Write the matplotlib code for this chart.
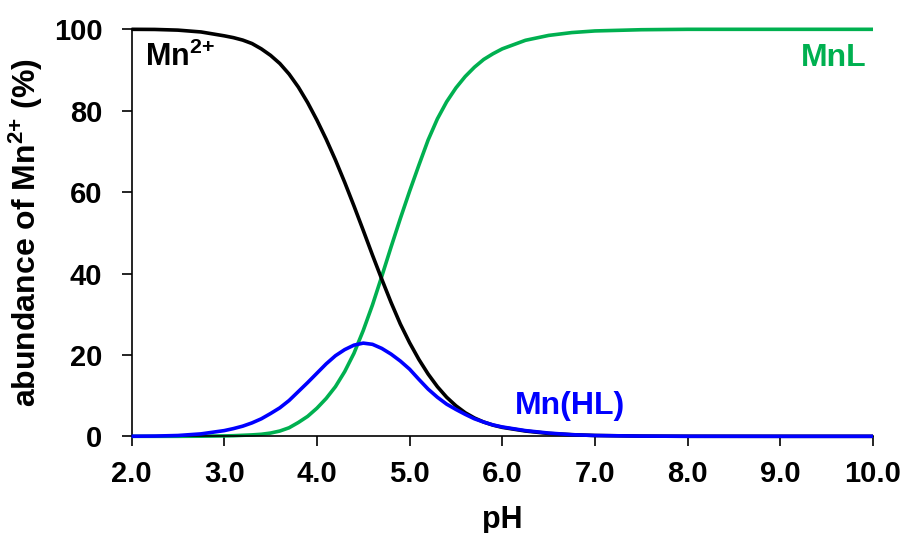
import matplotlib
matplotlib.use("Agg")
import matplotlib.pyplot as plt

plt.rcParams['font.family'] = ['Liberation Sans', 'DejaVu Sans']
plt.rcParams['font.weight'] = 'bold'
plt.rcParams['mathtext.fontset'] = 'custom'
plt.rcParams['mathtext.rm'] = 'Liberation Sans:bold'
plt.rcParams['mathtext.bf'] = 'Liberation Sans:bold'
plt.rcParams['mathtext.it'] = 'Liberation Sans:bold'

pH = [2.0, 2.25, 2.5, 2.75,
      3.0, 3.1, 3.2, 3.3, 3.4, 3.5, 3.6, 3.7, 3.8, 3.9,
      4.0, 4.1, 4.2, 4.3, 4.4, 4.5, 4.6, 4.7, 4.8, 4.9,
      5.0, 5.1, 5.2, 5.3, 5.4, 5.5, 5.6, 5.7, 5.8, 5.9,
      6.0, 6.25, 6.5, 6.75, 7.0, 7.5, 8.0, 9.0, 10.0]

mn_free = [100.0, 99.97, 99.8, 99.35,
           98.4, 97.95, 97.35, 96.5, 95.2, 93.6, 91.6, 89.0, 85.8, 82.0,
           77.7, 73.0, 67.9, 62.4, 56.6, 50.6, 44.5, 38.6, 32.9, 27.6,
           23.0, 18.9, 15.3, 12.2, 9.6, 7.5, 5.8, 4.5, 3.5, 2.75,
           2.2, 1.3, 0.7, 0.4, 0.2, 0.05, 0.01, 0.0, 0.0]

mn_hl = [0.02, 0.06, 0.2, 0.6,
         1.4, 1.9, 2.5, 3.3, 4.3, 5.6, 7.0, 8.8, 11.0, 13.2,
         15.5, 17.8, 19.8, 21.3, 22.4, 22.9, 22.6, 21.6, 20.2, 18.5,
         16.5, 14.0, 11.6, 9.6, 7.9, 6.6, 5.4, 4.3, 3.5, 2.8,
         2.3, 1.4, 0.8, 0.4, 0.2, 0.05, 0.01, 0.0, 0.0]

mn_l = [0.0, 0.0, 0.0, 0.03,
        0.1, 0.15, 0.25, 0.35, 0.5, 0.8, 1.3, 2.1, 3.4, 4.9,
        6.9, 9.3, 12.2, 15.9, 20.4, 26.0, 32.3, 39.3, 46.5, 53.5,
        60.2, 66.6, 72.8, 78.0, 82.2, 85.6, 88.4, 90.7, 92.6, 94.0,
        95.2, 97.3, 98.5, 99.2, 99.6, 99.9, 100.0, 100.0, 100.0]

x_ticks = [2.0, 3.0, 4.0, 5.0, 6.0, 7.0, 8.0, 9.0, 10.0]
x_tick_labels = ['2.0', '3.0', '4.0', '5.0', '6.0', '7.0', '8.0', '9.0', '10.0']
y_ticks = [0, 20, 40, 60, 80, 100]

black = '#000000'
blue = '#0000FF'
green = '#00B050'

fig = plt.figure(figsize=(9.04, 5.33), dpi=100)
ax = fig.add_axes([0.1455, 0.1814, 0.8202, 0.7636])

ax.plot(pH, mn_free, color=black, lw=2.6, clip_on=False, zorder=3,
        solid_capstyle='butt', solid_joinstyle='round')
ax.plot(pH, mn_l, color=green, lw=2.6, clip_on=False, zorder=2,
        solid_capstyle='butt', solid_joinstyle='round')
ax.plot(pH, mn_hl, color=blue, lw=2.6, clip_on=False, zorder=4,
        solid_capstyle='butt', solid_joinstyle='round')

ax.set_xlim(2.0, 10.0)
ax.set_ylim(0, 100)
ax.set_xticks(x_ticks)
ax.set_xticklabels(x_tick_labels)
ax.set_yticks(y_ticks)

for s in ['top', 'right']:
    ax.spines[s].set_visible(False)
for s in ['left', 'bottom']:
    ax.spines[s].set_linewidth(1.2)
    ax.spines[s].set_color('#000000')

ax.tick_params(axis='both', direction='out', length=7, width=1.2,
               labelsize=21)
ax.tick_params(axis='y', pad=14)
ax.tick_params(axis='x', pad=10)
for lab in ax.get_xticklabels() + ax.get_yticklabels():
    lab.set_fontweight('bold')

ax.set_xlabel('pH', fontsize=22, fontweight='bold', labelpad=12)
ax.set_ylabel(r'abundance of Mn$^{2{+}}$ (%)', fontsize=23, fontweight='bold', labelpad=6)

ax.text(2.15, 93, r'Mn$^{2{+}}$', color=black, fontsize=22, fontweight='bold',
        ha='left', va='center')
ax.text(9.93, 93, 'MnL', color=green, fontsize=23, fontweight='bold',
        ha='right', va='center')
ax.text(6.14, 7.4, 'Mn(HL)', color=blue, fontsize=23, fontweight='bold',
        ha='left', va='center')

fig.savefig('out.png', dpi=100)
